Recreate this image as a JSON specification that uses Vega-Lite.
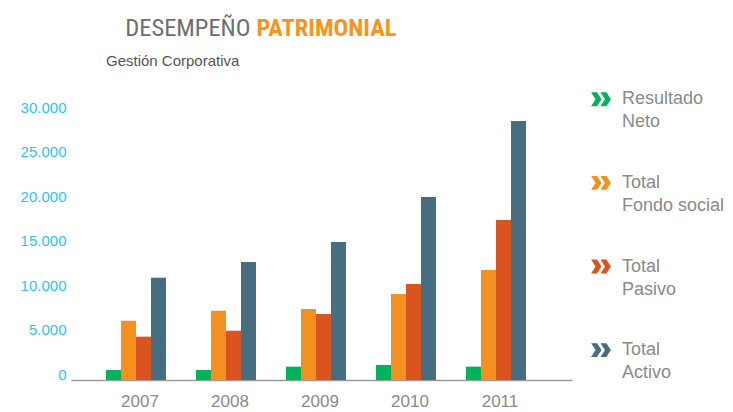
{
  "$schema": "https://vega.github.io/schema/vega-lite/v6.json",
  "autosize": {"type": "none"},
  "width": 501,
  "height": 267,
  "padding": {"left": 71, "top": 113, "right": 161, "bottom": 32},
  "background": "white",
  "config": {
    "font": "Liberation Sans",
    "view": {"stroke": null}
  },
  "title": {
    "text": "Gestión Corporativa",
    "anchor": "start",
    "frame": "group",
    "dx": 35,
    "dy": 58,
    "fontSize": 15,
    "fontWeight": "normal",
    "color": "#555555",
    "font": "Liberation Sans"
  },
  "data": {
    "values": [
      {"year": "2007", "serie": "Resultado Neto", "value": 1120},
      {"year": "2007", "serie": "Total Fondo social", "value": 6660},
      {"year": "2007", "serie": "Total Pasivo", "value": 4870},
      {"year": "2007", "serie": "Total Activo", "value": 11500},
      {"year": "2008", "serie": "Resultado Neto", "value": 1120},
      {"year": "2008", "serie": "Total Fondo social", "value": 7790},
      {"year": "2008", "serie": "Total Pasivo", "value": 5540},
      {"year": "2008", "serie": "Total Activo", "value": 13260},
      {"year": "2009", "serie": "Resultado Neto", "value": 1500},
      {"year": "2009", "serie": "Total Fondo social", "value": 7980},
      {"year": "2009", "serie": "Total Pasivo", "value": 7420},
      {"year": "2009", "serie": "Total Activo", "value": 15500},
      {"year": "2010", "serie": "Resultado Neto", "value": 1690},
      {"year": "2010", "serie": "Total Fondo social", "value": 9660},
      {"year": "2010", "serie": "Total Pasivo", "value": 10790},
      {"year": "2010", "serie": "Total Activo", "value": 20560},
      {"year": "2011", "serie": "Resultado Neto", "value": 1500},
      {"year": "2011", "serie": "Total Fondo social", "value": 12360},
      {"year": "2011", "serie": "Total Pasivo", "value": 17980},
      {"year": "2011", "serie": "Total Activo", "value": 29100}
    ]
  },
  "mark": {"type": "bar"},
  "encoding": {
    "x": {
      "field": "year",
      "type": "nominal",
      "scale": {"paddingInner": 0.33333, "paddingOuter": 0.45, "align": 0.432},
      "axis": {
        "title": "DESEMPEÑO",
        "titleX": 179,
        "titleY": -345,
        "titleAlign": "right",
        "titleBaseline": "alphabetic",
        "titleAnchor": null,
        "titleFont": "Roboto Condensed, Roboto, sans-serif",
        "titleFontSize": 24.5,
        "titleFontWeight": "normal",
        "titleColor": "#6d6e71",
        "labelAngle": 0,
        "labelFontSize": 17,
        "labelColor": "#8a8a8a",
        "labelOffset": 4,
        "labelPadding": 13,
        "ticks": false,
        "grid": false,
        "domain": true,
        "domainColor": "#9a9a9a",
        "domainWidth": 1.5
      }
    },
    "xOffset": {
      "field": "serie",
      "type": "nominal",
      "sort": ["Resultado Neto", "Total Fondo social", "Total Pasivo", "Total Activo"],
      "scale": {"paddingInner": 0, "paddingOuter": 0}
    },
    "y": {
      "field": "value",
      "type": "quantitative",
      "scale": {"domain": [0, 30000], "nice": false},
      "axis": {
        "title": "PATRIMONIAL",
        "titleX": 185,
        "titleY": -78,
        "titleAngle": 0,
        "titleAlign": "left",
        "titleBaseline": "alphabetic",
        "titleAnchor": null,
        "titleFont": "Roboto Condensed, Roboto, sans-serif",
        "titleFontSize": 24.5,
        "titleFontWeight": "bold",
        "titleColor": "#f7941d",
        "values": [0, 5000, 10000, 15000, 20000, 25000, 30000],
        "labelExpr": "replace(format(datum.value, ','), ',', '.')",
        "labelColor": "#2bc4f2",
        "labelFontSize": 15,
        "labelOffset": -6,
        "labelPadding": 5,
        "ticks": false,
        "grid": false,
        "domain": false
      }
    },
    "color": {
      "field": "serie",
      "type": "nominal",
      "sort": ["Resultado Neto", "Total Fondo social", "Total Pasivo", "Total Activo"],
      "scale": {
        "domain": ["Resultado Neto", "Total Fondo social", "Total Pasivo", "Total Activo"],
        "range": ["#00b259", "#f39020", "#d9541e", "#476e80"]
      },
      "legend": {
        "title": null,
        "orient": "none",
        "legendX": 520,
        "legendY": -23.7,
        "padding": 0,
        "symbolType": "M -1 -0.7 L -0.4 -0.7 L 0.05 0 L -0.4 0.7 L -1 0.7 L -0.55 0 Z M -0.05 -0.7 L 0.55 -0.7 L 1 0 L 0.55 0.7 L -0.05 0.7 L 0.4 0 Z",
        "symbolSize": 392,
        "symbolStrokeWidth": 0,
        "symbolOpacity": 1,
        "labelExpr": "datum.label == 'Resultado Neto' ? ['Resultado', 'Neto'] : ['Total', slice(datum.label, 6)]",
        "labelFontSize": 18,
        "labelColor": "#8a8a8a",
        "labelOffset": 11,
        "labelLimit": 200,
        "rowPadding": 41.6,
        "encode": {
          "labels": {"update": {"lineHeight": {"value": 23}}}
        }
      }
    }
  }
}
